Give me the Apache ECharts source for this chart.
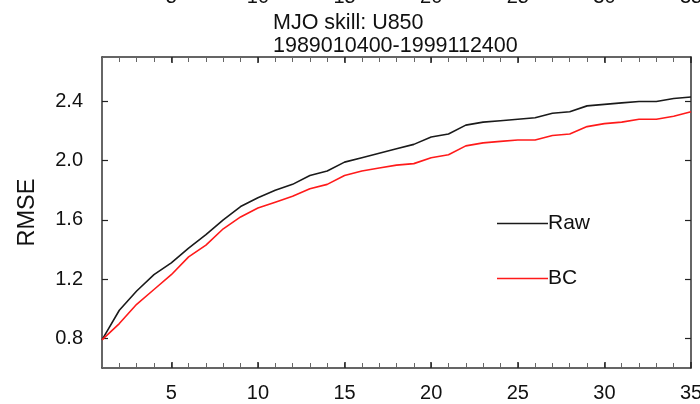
<!DOCTYPE html>
<html>
<head>
<meta charset="utf-8">
<script src="https://cdn.jsdelivr.net/npm/echarts@6/dist/echarts.min.js"></script>
<style>
  html, body { margin: 0; padding: 0; background: #fff; }
  #chart { width: 700px; height: 404px; }
</style>
</head>
<body>
<div id="chart"></div>
<script>
// Forecast lead day
const days = [1, 2, 3, 4, 5, 6, 7, 8, 9, 10, 11, 12, 13, 14, 15, 16, 17, 18, 19, 20,
              21, 22, 23, 24, 25, 26, 27, 28, 29, 30, 31, 32, 33, 34, 35];
// RMSE of raw forecasts
const rawRmse = [0.79, 0.99, 1.12, 1.23, 1.31, 1.41, 1.50, 1.60, 1.69, 1.75,
                 1.80, 1.84, 1.90, 1.93, 1.99, 2.02, 2.05, 2.08, 2.11, 2.16,
                 2.18, 2.24, 2.26, 2.27, 2.28, 2.29, 2.32, 2.33, 2.37, 2.38,
                 2.39, 2.40, 2.40, 2.42, 2.43];
// RMSE of bias-corrected forecasts
const bcRmse = [0.79, 0.90, 1.03, 1.13, 1.23, 1.35, 1.43, 1.54, 1.62, 1.68,
                1.72, 1.76, 1.81, 1.84, 1.90, 1.93, 1.95, 1.97, 1.98, 2.02,
                2.04, 2.10, 2.12, 2.13, 2.14, 2.14, 2.17, 2.18, 2.23, 2.25,
                2.26, 2.28, 2.28, 2.30, 2.33];
const xLabels = [5, 10, 15, 20, 25, 30, 35];
const yLabels = [0.8, 1.2, 1.6, 2.0, 2.4];
const seriesNames = ['Raw', 'BC'];

const FONT = 'Liberation Sans, Arial, Helvetica, sans-serif';
const lineCol = '#333';

const pairs = (vals) => days.map((d, i) => [d, vals[i]]);

const gridBox = { left: 102, right: 9, top: 57, bottom: 36, outerBoundsMode: 'none', containLabel: false };

function minorX(pos) {
  return {
    type: 'value', gridIndex: 0, position: pos, min: 1, max: 35, interval: 1,
    axisLine: { show: true, onZero: false, lineStyle: { color: lineCol, width: 1.5 } },
    axisTick: { show: true, inside: true, length: 5, lineStyle: { color: '#666', width: 1 } },
    axisLabel: {
      show: true, customValues: xLabels, margin: pos === 'top' ? 50 : 15,
      fontFamily: FONT, fontSize: 20, color: '#111',
      formatter: (v) => String(v)
    },
    splitLine: { show: false }
  };
}
function majorX(pos) {
  return {
    type: 'value', gridIndex: 1, position: pos, min: 1, max: 35,
    axisLine: { show: false },
    axisTick: { show: true, inside: true, length: 6, customValues: xLabels,
                lineStyle: { color: '#222', width: 1.5 } },
    axisLabel: { show: false },
    splitLine: { show: false }
  };
}

const option = {
  backgroundColor: '#fff',
  animation: false,
  title: {
    text: 'MJO skill: U850\n1989010400-1999112400',
    left: 273, top: 12, padding: 0,
    textStyle: { fontFamily: FONT, fontSize: 21.5, fontWeight: 'normal', color: '#111', lineHeight: 23 }
  },
  legend: {
    orient: 'vertical', left: 497, top: 213, padding: 0,
    icon: 'rect', itemWidth: 51, itemHeight: 1.5, itemGap: 34,
    data: seriesNames,
    textStyle: { fontFamily: FONT, fontSize: 21, color: '#111', padding: [0, 0, 0, -5] }
  },
  grid: [gridBox, gridBox],
  xAxis: [minorX('bottom'), minorX('top'), majorX('bottom'), majorX('top')],
  yAxis: [
    {
      type: 'value', gridIndex: 0, position: 'left', min: 0.6, max: 2.7,
      name: 'RMSE', nameLocation: 'middle', nameGap: 62,
      nameTextStyle: { fontFamily: FONT, fontSize: 23.5, color: '#111' },
      axisLine: { show: true, lineStyle: { color: lineCol, width: 1.5 } },
      axisTick: { show: true, inside: true, length: 6, customValues: yLabels,
                  lineStyle: { color: '#222', width: 1.2 } },
      axisLabel: { show: true, customValues: yLabels, margin: 19,
                   fontFamily: FONT, fontSize: 20, color: '#111',
                   formatter: (v) => v.toFixed(1) },
      splitLine: { show: false }
    },
    {
      type: 'value', gridIndex: 0, position: 'right', min: 0.6, max: 2.7,
      axisLine: { show: true, lineStyle: { color: lineCol, width: 1.5 } },
      axisTick: { show: true, inside: true, length: 6, customValues: yLabels,
                  lineStyle: { color: '#222', width: 1.2 } },
      axisLabel: { show: false },
      splitLine: { show: false }
    },
    { type: 'value', gridIndex: 1, min: 0.6, max: 2.7, show: false }
  ],
  series: [
    {
      name: seriesNames[0], type: 'line', xAxisIndex: 0, yAxisIndex: 0,
      data: pairs(rawRmse), showSymbol: false, symbol: 'none',
      lineStyle: { color: '#1a1a1a', width: 1.6 }, itemStyle: { color: '#1a1a1a' }
    },
    {
      name: seriesNames[1], type: 'line', xAxisIndex: 0, yAxisIndex: 0,
      data: pairs(bcRmse), showSymbol: false, symbol: 'none',
      lineStyle: { color: '#ff1a1a', width: 1.6 }, itemStyle: { color: '#ff1a1a' }
    }
  ]
};

const chart = echarts.init(document.getElementById('chart'), null, { renderer: 'canvas' });
chart.setOption(option);
</script>
</body>
</html>
